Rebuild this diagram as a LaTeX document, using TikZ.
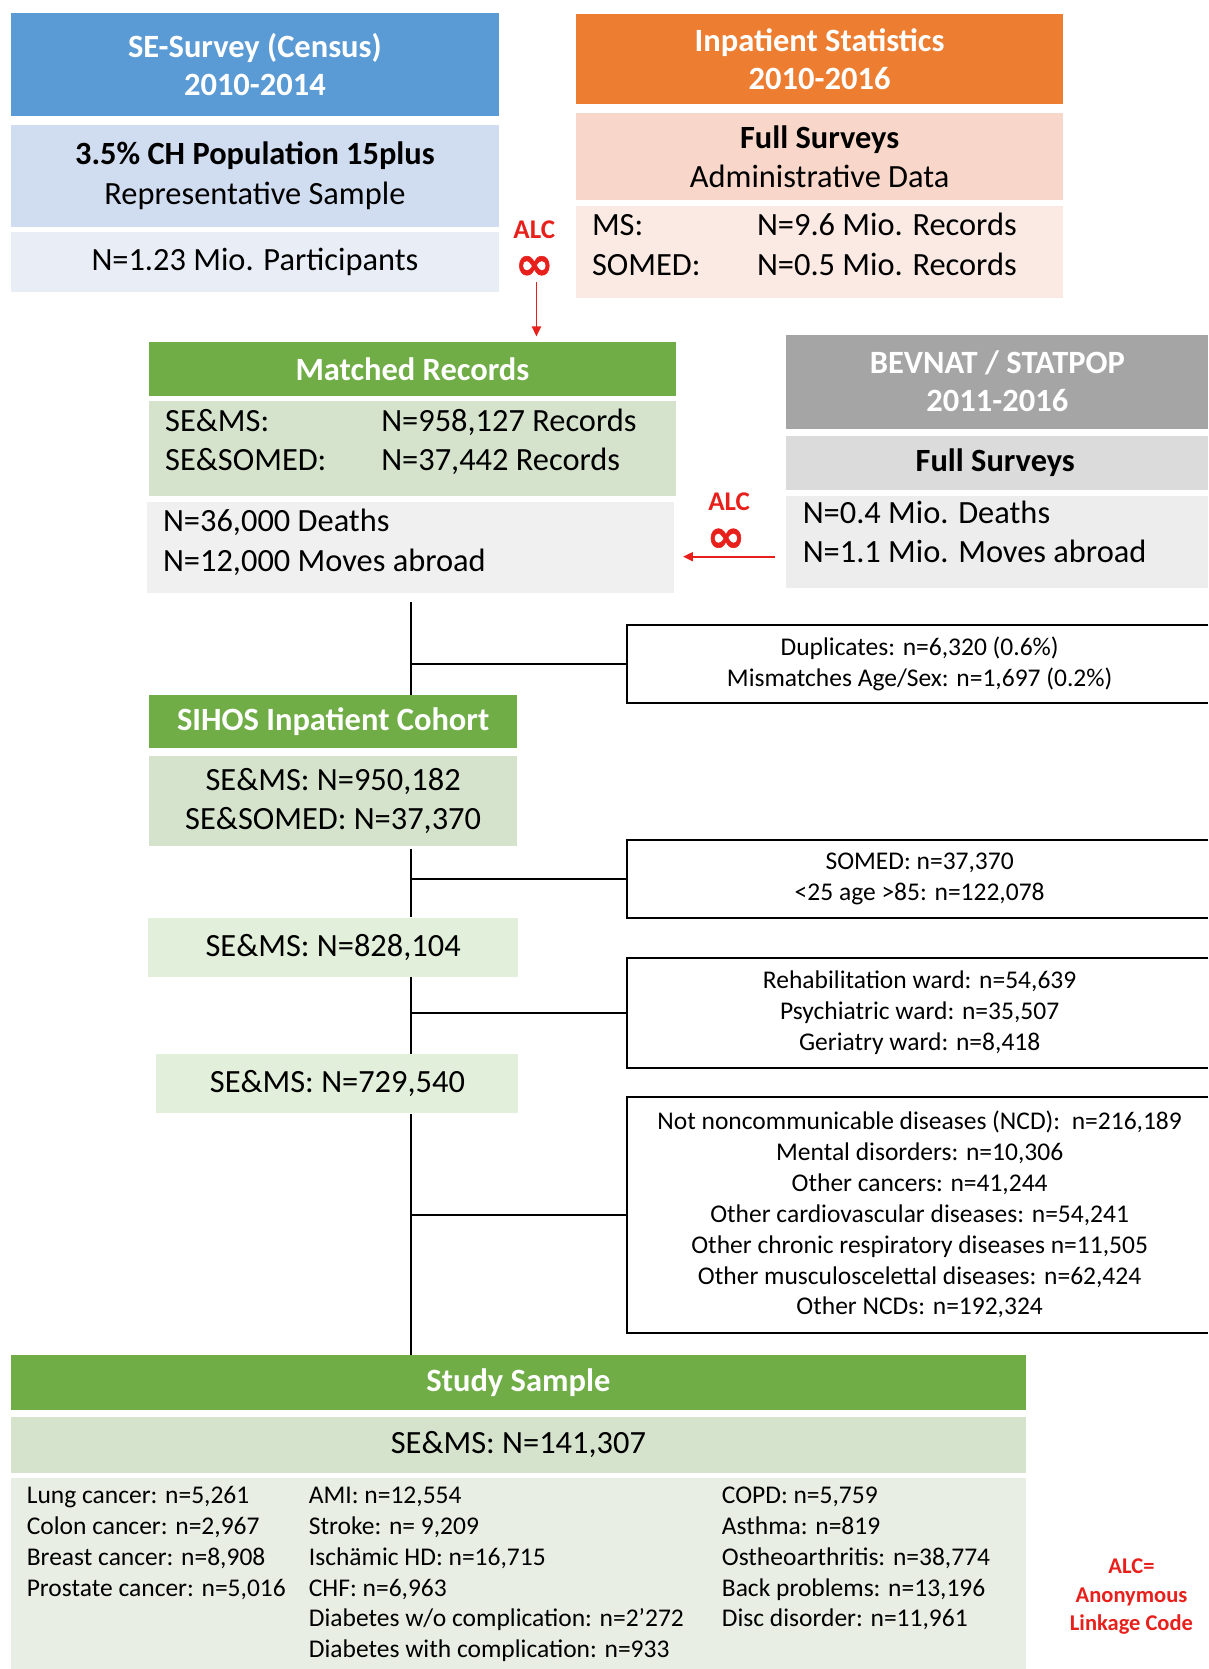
\documentclass[tikz,border=0pt]{standalone}
\usepackage{fontspec}
\setmainfont{Carlito}
\newfontfamily\inff[FakeBold=1.2]{DejaVu Sans}
\usetikzlibrary{fit,arrows.meta}
\definecolor{blueH}{HTML}{5B9BD5}
\definecolor{blueM}{HTML}{D0DCEF}
\definecolor{blueL}{HTML}{E9EEF6}
\definecolor{orH}{HTML}{ED7D31}
\definecolor{orM}{HTML}{F8D6C9}
\definecolor{orL}{HTML}{FBEAE4}
\definecolor{grH}{HTML}{70AD47}
\definecolor{grM}{HTML}{D5E3CD}
\definecolor{grX}{HTML}{E2EFDA}
\definecolor{grL}{HTML}{E8EEE4}
\definecolor{gyH}{HTML}{A5A5A5}
\definecolor{gyM}{HTML}{DBDBDB}
\definecolor{gyL}{HTML}{EDEDED}
\definecolor{gyX}{HTML}{F0F0F0}
\definecolor{alcred}{HTML}{E8201C}
\newcommand\rowat[4]{\node[row] (#1) at (#2,#3) {#4};}
\begin{document}
\begin{tikzpicture}[x=1.0643pt,y=-1.0643pt,
 box/.style={inner sep=0pt},
 hdr/.style={inner sep=0pt, align=center, text=white, font=\fontsize{32.5}{37.3}\selectfont\bfseries},
 body/.style={inner sep=0pt, align=center, font=\fontsize{32.4}{39.4}\selectfont},
 txt/.style={inner sep=0pt, anchor=west, font=\fontsize{32.4}{39.4}\selectfont, text height=.72em, text depth=.2em},
 small/.style={inner sep=0pt, align=center, font=\fontsize{25.5}{30.9}\selectfont},
 row/.style={inner sep=0pt, anchor=west, font=\fontsize{25.5}{30.9}\selectfont, text height=.72em, text depth=.2em},
 alc/.style={inner sep=0pt, text=alcred, font=\fontsize{27}{30}\selectfont\bfseries},
 inf/.style={inner sep=0pt, anchor=base, text=alcred, font=\fontsize{46}{46}\selectfont\inff\bfseries, text height=.5em, text depth=0pt},
 conn/.style={line width=2pt, black},
 frame/.style={line width=2pt, black},
 redarrow/.style={line width=1.9pt, alcred, -{Triangle[length=10pt,width=9pt]}}]
\useasboundingbox (0,0) rectangle (1135,1568);

% SE survey
\node[box, fill=blueH, fit={(10,12)(469,109)}] (seh) {};
\node[hdr] (sehT) at (seh) {SE-Survey (Census)\\2010-2014};
\node[box, fill=blueM, fit={(10,117)(469,213)}] (sem) {};
\node[body] (semT) at (sem) {{\bfseries 3.5\% CH Population 15plus}\\Representative Sample};
\node[box, fill=blueL, fit={(10,218)(469,274)}] (sel) {};
\node[body] (selT) at (sel) {N=1.23 Mio. Participants};

% Inpatient statistics
\node[box, fill=orH, fit={(541,13)(999,98)}] (iph) {};
\node[hdr] (iphT) at (iph) {Inpatient Statistics\\2010-2016};
\node[box, fill=orM, fit={(541,106)(999,188)}] (ipm) {};
\node[body] (ipmT) at (ipm) {{\bfseries Full Surveys}\\Administrative Data};
\node[box, fill=orL, fit={(541,194)(999,280)}] (ipl) {};
\node[txt] (ms1) at (556,219) {MS:};
\node[txt] (ms2) at (711,219) {N=9.6 Mio. Records};
\node[txt] (so1) at (556,256) {SOMED:};
\node[txt] (so2) at (711,256) {N=0.5 Mio. Records};

% ALC 1
\node[alc] (alc1) at (502,215.5) {ALC};
\node[inf] (inf1) at (502,262.5) {∞};

% Matched records
\node[box, fill=grH, fit={(140,321)(635,372)}] (mrh) {};
\node[hdr] (mrhT) at (mrh) {Matched Records};
\node[box, fill=grM, fit={(140,377)(635,466)}] (mrm) {};
\node[txt] (m1a) at (155,403) {SE\&MS:};
\node[txt] (m1b) at (358,403) {N=958,127 Records};
\node[txt] (m2a) at (155,440) {SE\&SOMED:};
\node[txt] (m2b) at (358,440) {N=37,442 Records};
\node[box, fill=gyX, fit={(138,472)(633,557)}] (mrg) {};
\node[txt] (d1) at (153,497) {N=36,000 Deaths};
\node[txt] (d2) at (153,534) {N=12,000 Moves abroad};

\coordinate (a1) at (504,265);
\draw[redarrow, shorten >=5pt] (a1) -- (a1 |- mrh.north);

% BEVNAT
\node[box, fill=gyH, fit={(738,315)(1135,403)}] (bvh) {};
\node[hdr] (bvhT) at (937,358) {BEVNAT / STATPOP\\2011-2016};
\node[box, fill=gyM, fit={(738,410)(1135,460)}] (bvm) {};
\node[body] (bvmT) at (935,435) {\bfseries Full Surveys};
\node[box, fill=gyL, fit={(738,466)(1135,552)}] (bvl) {};
\node[txt] (b1) at (754,489) {N=0.4 Mio. Deaths};
\node[txt] (b2) at (754,526) {N=1.1 Mio. Moves abroad};
\node[alc] (alc2) at (685,471) {ALC};
\node[inf] (inf2) at (682,518.5) {∞};
\coordinate (a2) at (738,523);
\draw[redarrow, shorten <=10.5pt, shorten >=9pt] (a2) -- (a2 -| mrg.east);

% Cohort chain
\node[box, fill=grH, fit={(140,653)(486,703)}] (sih) {};
\node[hdr] (sihT) at (sih) {SIHOS Inpatient Cohort};
\node[box, fill=grM, fit={(140,710)(486,795)}] (sim) {};
\node[body] (simT) at (sim) {SE\&MS: N=950,182\\SE\&SOMED: N=37,370};
\node[box, fill=grX, fit={(139,862)(487,918)}] (n828) {};
\node[body] (n828T) at (n828) {SE\&MS: N=828,104};
\node[box, fill=grX, fit={(147,990)(487,1046)}] (n729) {};
\node[body] (n729T) at (n729) {SE\&MS: N=729,540};
\node[box, fill=grH, fit={(10,1273)(964,1325)}] (ssh) {};
\node[hdr] (sshT) at (ssh) {Study Sample};
\node[box, fill=grM, fit={(10,1331)(964,1384)}] (ssm) {};
\node[body] (ssmT) at (ssm) {SE\&MS: N=141,307};
\node[box, fill=grL, fit={(10,1389)(964,1568)}] (ssl) {};

% exclusion boxes
\node[box, fit={(589,587)(1135,660)}] (dup) {};
\node[small] (duptxt) at (864,624) {Duplicates: n=6,320 (0.6\%)\\Mismatches Age/Sex: n=1,697 (0.2\%)};
\node[box, fit={(589,789)(1135,862)}] (som) {};
\node[small] (somtxt) at (864,826) {SOMED: n=37,370\\<25 age >85: n=122,078};
\node[box, fit={(589,900)(1135,1003)}] (reh) {};
\node[small] (rehtxt) at (864,951.5) {Rehabilitation ward: n=54,639\\Psychiatric ward: n=35,507\\Geriatry ward: n=8,418};
\node[box, fit={(589,1031)(1135,1252)}] (ncd) {};
\node[small] (ncdtxt) at (864,1141) {Not noncommunicable diseases (NCD):\ \ n=216,189\\Mental disorders: n=10,306\\Other cancers: n=41,244\\Other cardiovascular diseases: n=54,241\\Other chronic respiratory diseases n=11,505\\Other musculoscelettal diseases: n=62,424\\Other NCDs: n=192,324};
\foreach \b in {dup,som,reh,ncd}
  \draw[frame] (\b.north east) -- (\b.north west) -- (\b.south west) -- (\b.south east);

% spine
\coordinate (sp) at (386,566);
\draw[conn] (sp) -- (sp |- sih.north);
\draw[conn] (sp |- dup.west) -- (dup.west);
\draw[conn] (sp |- sim.south) ++(0,2) -- (sp |- n828.north);
\draw[conn] (sp |- som.west) -- (som.west);
\draw[conn] (sp |- n828.south) -- (sp |- n729.north);
\draw[conn] (sp |- reh.west) -- (reh.west);
\draw[conn] (sp |- n729.south) -- (sp |- ssh.north);
\draw[conn] (sp |- ncd.west) -- (ncd.west);

% study sample rows
\rowat{c11}{25}{1410}{Lung cancer: n=5,261}
\rowat{c12}{25}{1439}{Colon cancer: n=2,967}
\rowat{c13}{25}{1468}{Breast cancer: n=8,908}
\rowat{c14}{25}{1497}{Prostate cancer: n=5,016}
\rowat{c21}{290}{1410}{AMI: n=12,554}
\rowat{c22}{290}{1439}{Stroke: n= 9,209}
\rowat{c23}{290}{1468}{Ischämic HD: n=16,715}
\rowat{c24}{290}{1497}{CHF: n=6,963}
\rowat{c25}{290}{1526}{Diabetes w/o complication: n=2’272}
\rowat{c26}{290}{1555}{Diabetes with complication: n=933}
\rowat{c31}{678}{1410}{COPD: n=5,759}
\rowat{c32}{678}{1439}{Asthma: n=819}
\rowat{c33}{678}{1468}{Ostheoarthritis: n=38,774}
\rowat{c34}{678}{1497}{Back problems: n=13,196}
\rowat{c35}{678}{1526}{Disc disorder: n=11,961}

\node[inner sep=0pt, align=center, text=alcred, font=\fontsize{22.5}{28.7}\selectfont\bfseries] (legend) at (1063,1500) {ALC=\\Anonymous\\Linkage Code};
\end{tikzpicture}
\end{document}
